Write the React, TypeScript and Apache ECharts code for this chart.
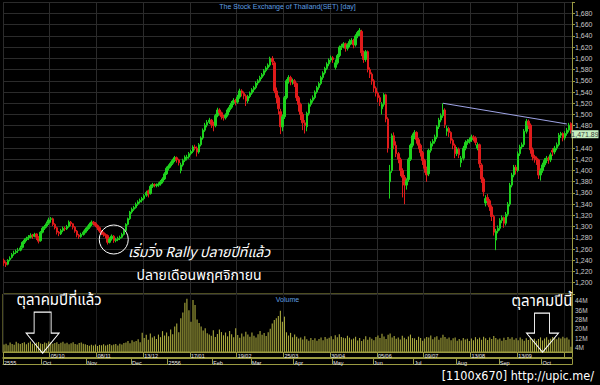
import React, { useEffect, useRef } from 'react';
import * as echarts from 'echarts';

const chartTitle = 'The Stock Exchange of Thailand(SET) [day]';

// [open, close, low, high]
const ohlc: number[][] = [
  [1240,1235,1230,1243],[1236,1232,1228,1238],[1233,1240,1231,1242],[1241,1244,1238,1247],[1245,1250,1243,1253],
  [1251,1253,1248,1257],[1254,1256,1251,1259],[1257,1258,1253,1262],[1258,1262,1256,1266],[1263,1272,1261,1274],
  [1272,1276,1269,1279],[1277,1279,1274,1282],[1280,1281,1276,1285],[1281,1284,1279,1288],[1285,1283,1278,1287],
  [1283,1286,1281,1289],[1287,1281,1276,1288],[1281,1274,1270,1283],[1275,1290,1273,1292],[1290,1297,1288,1300],
  [1297,1300,1294,1303],[1301,1305,1298,1309],[1306,1312,1303,1316],[1313,1314,1307,1317],[1314,1304,1301,1316],
  [1304,1298,1295,1306],[1298,1290,1286,1300],[1290,1288,1283,1292],[1287,1293,1285,1296],[1293,1297,1290,1300],
  [1297,1296,1292,1300],[1296,1300,1294,1303],[1300,1308,1298,1311],[1308,1305,1301,1310],[1305,1299,1295,1306],
  [1299,1292,1289,1301],[1292,1285,1281,1294],[1285,1282,1278,1287],[1282,1286,1280,1289],[1286,1290,1284,1293],
  [1290,1295,1288,1298],[1295,1299,1292,1302],[1299,1304,1296,1307],[1304,1308,1301,1311],[1308,1306,1302,1310],
  [1306,1302,1299,1308],[1302,1298,1294,1304],[1298,1292,1289,1300],[1292,1289,1285,1294],[1289,1286,1282,1291],
  [1286,1284,1279,1288],[1284,1272,1268,1286],[1272,1278,1270,1281],[1278,1283,1275,1286],[1283,1275,1271,1285],
  [1275,1277,1272,1280],[1277,1279,1274,1282],[1279,1281,1276,1284],[1281,1286,1279,1289],[1286,1292,1284,1295],
  [1293,1304,1291,1306],[1304,1314,1302,1316],[1314,1326,1312,1328],[1326,1331,1323,1334],[1331,1334,1328,1337],
  [1334,1340,1332,1343],[1340,1344,1337,1347],[1344,1347,1341,1350],[1347,1350,1343,1353],[1350,1355,1347,1358],
  [1356,1361,1353,1364],[1364,1358,1352,1366],[1359,1372,1357,1375],[1372,1375,1369,1378],[1375,1374,1370,1377],
  [1373,1374,1370,1377],[1374,1376,1371,1379],[1376,1380,1373,1383],[1380,1385,1377,1388],[1385,1394,1383,1397],
  [1394,1404,1392,1407],[1404,1408,1400,1411],[1408,1413,1405,1416],[1413,1418,1410,1421],[1418,1423,1415,1426],
  [1423,1419,1414,1425],[1419,1414,1409,1421],[1400,1410,1395,1414],[1410,1418,1407,1421],[1418,1424,1415,1427],
  [1422,1424,1418,1428],[1424,1430,1421,1433],[1430,1434,1427,1437],[1434,1442,1431,1445],[1442,1440,1436,1446],
  [1440,1433,1425,1443],[1433,1446,1430,1449],[1446,1458,1443,1461],[1458,1472,1455,1475],[1472,1481,1469,1485],
  [1481,1486,1477,1490],[1486,1490,1483,1494],[1490,1482,1476,1492],[1484,1480,1470,1487],[1480,1498,1477,1501],
  [1498,1508,1495,1512],[1508,1503,1498,1511],[1503,1496,1491,1505],[1496,1494,1489,1499],[1494,1499,1491,1502],
  [1499,1508,1496,1511],[1508,1513,1504,1517],[1513,1520,1510,1524],[1520,1525,1517,1529],[1525,1522,1516,1528],
  [1522,1531,1519,1535],[1531,1542,1528,1546],[1542,1538,1532,1545],[1538,1533,1527,1541],[1533,1524,1515,1536],
  [1524,1532,1520,1535],[1532,1538,1529,1541],[1538,1544,1535,1547],[1544,1548,1540,1551],[1548,1556,1545,1559],
  [1556,1560,1552,1563],[1560,1566,1557,1569],[1566,1571,1563,1574],[1571,1578,1568,1581],[1578,1583,1575,1586],
  [1583,1588,1580,1591],[1588,1600,1585,1603],[1600,1594,1588,1604],[1592,1542,1538,1595],[1542,1530,1520,1548],
  [1530,1510,1500,1534],[1505,1478,1465,1510],[1478,1496,1470,1500],[1496,1530,1492,1533],[1530,1560,1527,1563],
  [1560,1566,1555,1570],[1566,1558,1552,1569],[1558,1560,1553,1564],[1560,1555,1549,1563],[1555,1530,1524,1557],
  [1530,1518,1505,1533],[1518,1500,1490,1521],[1500,1485,1472,1504],[1485,1480,1466,1490],[1478,1502,1470,1505],
  [1502,1518,1498,1521],[1518,1525,1514,1528],[1525,1530,1521,1534],[1530,1540,1527,1543],[1540,1548,1537,1551],
  [1548,1555,1544,1558],[1555,1566,1552,1569],[1566,1574,1562,1577],[1574,1582,1571,1585],[1582,1590,1579,1593],
  [1590,1597,1586,1600],[1597,1601,1593,1605],[1601,1598,1592,1604],[1584,1592,1580,1598],[1592,1605,1589,1608],
  [1605,1620,1602,1623],[1620,1622,1615,1626],[1622,1626,1618,1629],[1626,1618,1612,1628],[1618,1624,1614,1627],
  [1624,1630,1620,1634],[1630,1632,1625,1636],[1632,1624,1618,1635],[1624,1640,1621,1643],[1640,1646,1636,1649],
  [1646,1650,1640,1654],[1648,1610,1604,1651],[1610,1598,1592,1614],[1598,1612,1594,1615],[1612,1580,1575,1614],
  [1580,1572,1565,1584],[1572,1560,1553,1575],[1560,1547,1540,1563],[1547,1538,1532,1550],[1538,1530,1522,1541],
  [1530,1522,1515,1534],[1510,1518,1500,1522],[1518,1535,1514,1538],[1535,1492,1486,1537],[1492,1440,1432,1495],
  [1380,1398,1350,1410],[1400,1462,1396,1466],[1462,1445,1438,1468],[1445,1430,1424,1452],[1430,1420,1413,1433],
  [1420,1400,1390,1423],[1400,1388,1352,1404],[1388,1374,1340,1392],[1374,1382,1366,1386],[1384,1420,1380,1423],
  [1420,1445,1417,1448],[1445,1462,1441,1466],[1462,1468,1456,1472],[1468,1455,1448,1470],[1455,1445,1438,1458],
  [1445,1432,1425,1448],[1432,1418,1410,1435],[1418,1404,1396,1421],[1404,1392,1380,1407],[1394,1436,1390,1439],
  [1436,1448,1432,1452],[1448,1452,1443,1456],[1452,1460,1448,1464],[1460,1478,1456,1481],[1478,1490,1474,1494],
  [1490,1498,1486,1502],[1498,1508,1494,1520],[1508,1482,1476,1511],[1470,1475,1462,1480],[1475,1468,1460,1478],
  [1468,1454,1448,1470],[1454,1445,1438,1457],[1445,1430,1422,1448],[1430,1438,1426,1442],[1438,1428,1422,1441],
  [1414,1422,1406,1426],[1422,1440,1418,1444],[1440,1450,1436,1454],[1450,1452,1446,1456],[1452,1455,1448,1459],
  [1455,1460,1451,1464],[1460,1458,1452,1463],[1458,1450,1445,1461],[1440,1446,1436,1450],[1446,1412,1405,1448],
  [1410,1385,1378,1413],[1385,1362,1354,1388],[1342,1350,1336,1356],[1352,1346,1338,1358],[1346,1335,1328,1349],
  [1335,1318,1310,1338],[1318,1290,1284,1321],[1276,1292,1258,1296],[1292,1297,1288,1302],[1297,1311,1293,1315],
  [1311,1316,1306,1320],[1316,1306,1298,1318],[1306,1322,1302,1326],[1322,1340,1318,1344],[1340,1374,1336,1378],
  [1374,1392,1370,1396],[1392,1406,1388,1410],[1406,1400,1393,1410],[1400,1430,1397,1434],[1430,1442,1426,1446],
  [1442,1446,1438,1450],[1446,1470,1442,1474],[1470,1488,1466,1492],[1488,1481,1474,1491],[1481,1437,1430,1484],
  [1437,1425,1418,1441],[1425,1422,1414,1428],[1422,1419,1410,1425],[1419,1392,1385,1421],[1392,1400,1382,1404],
  [1400,1410,1396,1414],[1410,1418,1406,1422],[1418,1422,1413,1426],[1422,1419,1412,1425],[1419,1428,1415,1432],
  [1436,1433,1426,1440],[1433,1440,1429,1444],[1440,1446,1436,1450],[1446,1463,1443,1467],[1463,1466,1458,1469],
  [1466,1458,1452,1468],[1458,1466,1454,1470],[1466,1472,1462,1476],[1472,1481,1468,1485],[1484,1471.89,1466,1486],
];

// volume, millions of shares
const volumeM: number[] = [
  6.5, 7.2, 5.8, 8.1, 7.0, 6.2, 8.8, 7.5, 6.9, 7.8,
  8.4, 6.6, 7.9, 9.1, 7.2, 6.8, 8.0, 8.6, 7.4, 6.9,
  8.2, 7.6, 9.0, 8.3, 7.1, 7.7, 8.5, 6.8, 7.9, 8.8,
  7.3, 8.0, 6.7, 7.5, 8.4, 7.0, 6.4, 7.8, 8.2, 7.1,
  6.6, 6.0, 5.4, 6.2, 5.7, 6.5, 5.2, 6.1, 5.8, 6.6,
  5.5, 6.3, 7.0, 5.9, 6.4, 6.8, 5.6, 7.2, 6.5, 7.7,
  8.1, 9.4, 7.6, 10.2, 8.8, 9.5, 11.0, 8.4, 16.5, 12.0,
  14.8, 10.6, 16.0, 12.4, 13.5, 11.2, 15.0, 12.8, 18.0, 14.2,
  16.8, 13.6, 19.5, 15.2, 22.0, 24.5, 17.0, 29.0, 34.0, 42.5,
  46.0, 36.0, 26.0, 44.8, 40.5, 28.0, 25.0, 22.0, 18.5, 20.5,
  16.2, 15.0, 14.0, 18.8, 13.0, 15.6, 19.5, 17.2, 14.4, 16.8,
  13.5, 18.0, 15.2, 12.8, 20.5, 14.6, 12.2, 16.0, 13.4, 17.5,
  15.0, 13.2, 16.8, 14.0, 12.6, 15.4, 18.2, 14.8, 16.4, 13.8,
  17.0, 20.0, 24.5, 27.5, 29.0, 31.0, 35.5, 26.0, 30.5, 17.0,
  14.2, 16.5, 12.8, 15.0, 13.2, 11.6, 12.4, 10.8, 13.6, 11.0,
  9.8, 12.0, 10.4, 11.8, 9.6, 11.2, 12.6, 10.2, 13.0, 11.4,
  12.2, 13.5, 11.0, 14.5, 12.8, 15.2, 13.0, 12.2, 11.8, 14.0,
  12.4, 10.8, 11.6, 13.2, 10.0, 12.0, 9.4, 11.0, 13.6, 10.6,
  12.8, 11.5, 10.2, 13.0, 14.2, 12.0, 15.8, 13.4, 11.2, 14.8,
  16.0, 12.6, 13.8, 11.4, 12.6, 10.8, 14.0, 12.2, 11.0, 13.4,
  15.0, 12.0, 11.8, 10.4, 13.2, 12.0, 9.8, 11.6, 13.0, 12.4,
  14.2, 11.0, 12.8, 13.6, 10.6, 12.2, 14.8, 13.0, 11.4, 12.6,
  10.2, 11.8, 12.4, 9.6, 11.2, 10.0, 12.0, 10.8, 11.4, 9.4,
  11.6, 10.2, 12.8, 11.0, 12.4, 10.6, 13.2, 11.8, 10.4, 12.6,
  11.2, 13.8, 12.0, 10.8, 11.6, 9.8, 12.2, 10.4, 13.0, 11.4,
  12.8, 10.6, 11.8, 10.2, 12.4, 11.0, 9.6, 11.8, 10.4, 12.0,
  10.8, 11.4, 9.8, 11.2, 12.6, 10.0, 11.6, 12.8, 10.6, 11.4,
  13.0, 12.2, 11.0, 12.4, 11.6, 13.2, 11.8, 12.6, 10.8, 4.5,
];

const dayTickIdx = [23, 46, 69, 92, 115, 138, 161, 184, 207, 230, 253];
const dayTickLabels = ['05/10', '08/11', '13/12', '17/01', '19/02', '25/03', '30/04', '05/06', '09/07', '13/08', '13/09'];
const monthIdx = [0, 19, 41, 63, 81, 103, 122, 143, 162, 182, 202, 223, 244, 265];
const monthLabels = ['2555', 'Oct', 'Nov', 'Dec', '2556', 'Feb', 'Mar', 'Apr', 'May', 'Jun', 'Jul', 'Aug', 'Sep', 'Oct'];
const lastClose = 1471.89;
const trendFrom = [216, 1520];
const trendTo = [277, 1483];
const rallyMark = [54, 1277];
const arrowMarks = [[19, 16.7], [265, 16.7]];
const noteRally1 = 'เริ่มวิ่ง Rally ปลายปีที่แล้ว';
const noteRally2 = 'ปลายเดือนพฤศจิกายน';
const noteLastOct = 'ตุลาคมปีที่แล้ว';
const noteThisOct = 'ตุลาคมปีนี้';
const watermark = '[1100x670] http://upic.me/';

export default function App() {
  const ref = useRef<HTMLDivElement>(null);
  useEffect(() => {
    if (!ref.current) return;
    const chart = echarts.init(ref.current, undefined, { renderer: 'svg' });
    const days = ohlc.map((_, i) => String(i));
    const dayLabel = new Map<number, string>(dayTickIdx.map((d, k) => [d, dayTickLabels[k]]));
    const monthLabel = new Map<number, string>(monthIdx.map((d, k) => [d, monthLabels[k]]));
    const olive = '#9a9a42';
    const gridCol = '#2b2b2b';
    const font = 'Liberation Sans, Arial, sans-serif';
    const thaiFont = 'Noto Sans Thai, Tahoma, Loma, sans-serif';
    const blue = '#5f9fe0';
    const cat = (gridIndex: number, extra: any) => ({
      type: 'category', gridIndex, data: days, boundaryGap: true, ...extra,
    });
    const lineOnly = (offset: number) => cat(1, {
      position: 'bottom', offset,
      axisLine: { show: true, lineStyle: { color: olive, width: 1 } },
      axisTick: { show: false }, axisLabel: { show: false }, splitLine: { show: false },
    });
    const arrowPath1 = 'path://M8,0L25,0L25,21L33,21L16.5,41L0,21L8,21Z';
    const arrowPath2 = 'path://M8,0L23,0L23,20L32,20L16,39L0,20L8,20Z';
    // the last-price box covers the axis label just under it
    const coveredLabel = Math.floor(lastClose / 20) * 20;

    const option: any = {
      animation: false,
      backgroundColor: '#000',
      grid: [
        { left: 3, right: 28, top: 2.3, height: 291.6 },
        { left: 3, right: 28, top: 294, height: 58, show: true, borderColor: olive, borderWidth: 1, backgroundColor: 'transparent' },
      ],
      xAxis: [
        cat(0, {
          axisLine: { show: false }, axisTick: { show: false }, axisLabel: { show: false },
          splitLine: { show: true, interval: (i: number) => i % 23 === 0, lineStyle: { color: gridCol, width: 1 } },
        }),
        cat(1, {
          position: 'bottom',
          axisLine: { show: true, lineStyle: { color: olive, width: 1 } },
          axisTick: { show: true, interval: (i: number) => i % 23 === 0, length: 5.5, lineStyle: { color: olive } },
          axisLabel: {
            show: true, interval: (i: number) => dayLabel.has(i),
            formatter: (v: string) => dayLabel.get(Number(v)) ?? '',
            align: 'left', margin: 1, fontSize: 5.5, color: '#e6e6e6', fontFamily: font,
          },
          splitLine: { show: true, interval: (i: number) => i % 23 === 0, lineStyle: { color: '#1c1c1c', width: 1 } },
        }),
        lineOnly(5.5),
        cat(1, {
          position: 'bottom', offset: 6.5,
          axisLine: { show: true, lineStyle: { color: olive, width: 1 } },
          axisTick: { show: true, interval: (i: number) => monthLabel.has(i), length: 6, lineStyle: { color: olive } },
          axisLabel: {
            show: true, interval: (i: number) => monthLabel.has(i),
            formatter: (v: string) => monthLabel.get(Number(v)) ?? '',
            align: 'left', margin: 1, fontSize: 5.5, color: '#e6e6e6', fontFamily: font,
          },
          splitLine: { show: false },
        }),
        lineOnly(12.5),
      ],
      yAxis: [
        {
          type: 'value', gridIndex: 0, position: 'right', min: 1180, max: 1700, interval: 20,
          axisLine: { show: true, lineStyle: { color: olive } },
          axisTick: { show: true, length: 3, lineStyle: { color: olive } },
          axisLabel: {
            color: '#c8c8c8', fontSize: 7, margin: 3, fontFamily: font,
            formatter: (v: number) => (v === 1180 || v === 1700 || v === coveredLabel ? '' : v.toLocaleString('en-US')),
          },
          splitLine: { show: true, lineStyle: { color: gridCol, width: 1 } },
        },
        {
          type: 'value', gridIndex: 1, position: 'right', min: 0, max: 50, interval: 4,
          axisLine: { show: true, lineStyle: { color: olive } },
          axisTick: { show: false },
          axisLabel: {
            color: '#c8c8c8', fontSize: 6.5, margin: 3, fontFamily: font,
            formatter: (v: number) => (v % 8 === 4 ? v + 'M' : ''),
          },
          splitLine: { show: false },
        },
      ],
      series: [
        {
          type: 'candlestick', xAxisIndex: 0, yAxisIndex: 0, data: ohlc, barWidth: 2,
          itemStyle: { color: '#1ed21e', color0: '#e01b1b', borderColor: '#1ed21e', borderColor0: '#e01b1b', borderWidth: 1 },
          markLine: {
            silent: true, symbol: 'none', animation: false,
            label: { show: false },
            lineStyle: { color: '#9ea4e6', width: 1, type: 'solid' },
            data: [[{ coord: trendFrom }, { coord: trendTo }]],
          },
          markPoint: {
            silent: true, animation: false,
            data: [
              {
                coord: rallyMark, symbol: 'circle', symbolSize: 29,
                itemStyle: { color: 'rgba(0,0,0,0)', borderColor: '#ffffff', borderWidth: 1 },
                label: { show: false },
              },
              {
                coord: [ohlc.length - 1, lastClose], symbol: 'rect', symbolSize: [27, 8], symbolOffset: [14, 4],
                itemStyle: { color: '#c6efc0' },
                label: {
                  show: true, position: 'inside', color: '#3c3c3c', fontSize: 7, fontFamily: font,
                  formatter: () => lastClose.toLocaleString('en-US', { minimumFractionDigits: 2 }),
                },
              },
            ],
          },
        },
        {
          type: 'bar', xAxisIndex: 1, yAxisIndex: 1, data: volumeM, barWidth: '55%',
          itemStyle: { color: '#a6a63c' },
          markPoint: {
            silent: true, animation: false,
            data: [
              {
                coord: arrowMarks[0], symbol: arrowPath1, symbolSize: [33, 41],
                itemStyle: { color: 'rgba(0,0,0,0)', borderColor: '#ffffff', borderWidth: 1 },
                label: { show: false },
              },
              {
                coord: arrowMarks[1], symbol: arrowPath2, symbolSize: [32, 39],
                itemStyle: { color: 'rgba(0,0,0,0)', borderColor: '#ffffff', borderWidth: 1 },
                label: { show: false },
              },
            ],
          },
        },
      ],
      graphic: [
        { type: 'text', x: 287.5, y: 6, z: 100, style: { text: chartTitle, fill: blue, fontSize: 7, fontFamily: font, align: 'center', verticalAlign: 'middle' } },
        { type: 'text', x: 287.5, y: 299.5, z: 100, style: { text: 'Volume', fill: blue, fontSize: 7, fontFamily: font, align: 'center', verticalAlign: 'middle' } },
        { type: 'text', x: 199, y: 252, z: 100, style: { text: noteRally1, fill: '#ffffff', fontSize: 14, fontStyle: 'italic', fontFamily: thaiFont, align: 'center', verticalAlign: 'middle' } },
        { type: 'text', x: 199, y: 275, z: 100, style: { text: noteRally2, fill: '#ffffff', fontSize: 14, fontFamily: thaiFont, align: 'center', verticalAlign: 'middle' } },
        { type: 'text', x: 59, y: 300, z: 100, style: { text: noteLastOct, fill: '#ffffff', fontSize: 15, fontFamily: thaiFont, align: 'center', verticalAlign: 'middle' } },
        { type: 'text', x: 542, y: 301, z: 100, style: { text: noteThisOct, fill: '#ffffff', fontSize: 15, fontFamily: thaiFont, align: 'center', verticalAlign: 'middle' } },
        { type: 'text', x: 594, y: 375, z: 100, style: { text: watermark, fill: '#ffffff', fontSize: 12.5, fontFamily: 'DejaVu Sans Condensed, Liberation Sans Narrow, Liberation Sans, sans-serif', align: 'right', verticalAlign: 'middle' } },
      ],
    };
    chart.setOption(option);
    return () => chart.dispose();
  }, []);
  return (
    <div
      ref={ref}
      style={{ position: 'fixed', left: 0, top: 0, width: 600, height: 385, background: '#000' }}
    />
  );
}
